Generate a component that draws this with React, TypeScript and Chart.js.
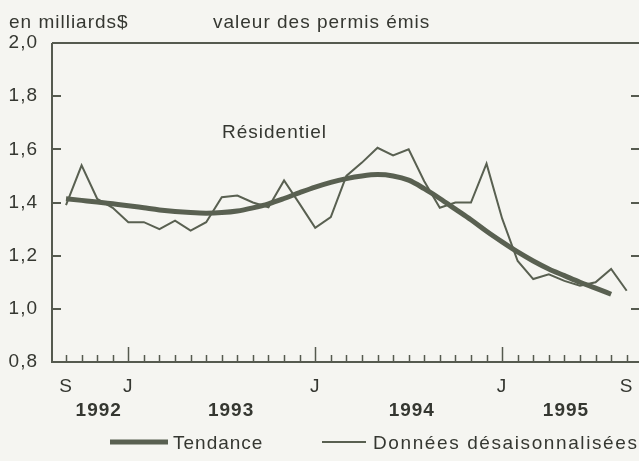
import React, { useEffect, useRef } from 'react';
import { Chart, registerables } from 'chart.js';

Chart.register(...registerables);

// Monthly categories: Sept 1992 .. Sept 1995
const months = [
  'S', 'O', 'N', 'D',
  'J', 'F', 'M', 'A', 'M', 'J', 'J', 'A', 'S', 'O', 'N', 'D',
  'J', 'F', 'M', 'A', 'M', 'J', 'J', 'A', 'S', 'O', 'N', 'D',
  'J', 'F', 'M', 'A', 'M', 'J', 'J', 'A', 'S',
];

// Données désaisonnalisées (milliards $)
const rawValues = [
  1.39, 1.54, 1.414, 1.38,
  1.326, 1.326, 1.30, 1.332, 1.294, 1.326, 1.42, 1.426, 1.40, 1.382, 1.483, 1.395,
  1.305, 1.345, 1.50, 1.55, 1.606, 1.577, 1.60, 1.48, 1.38, 1.40, 1.40, 1.546,
  1.34, 1.18, 1.112, 1.13, 1.105, 1.087, 1.10, 1.15, 1.068,
];

// Tendance (milliards $)
const trendValues = [
  1.414, 1.408, 1.402, 1.395,
  1.388, 1.380, 1.372, 1.366, 1.362, 1.360, 1.362, 1.368, 1.380, 1.395, 1.415, 1.437,
  1.458, 1.476, 1.490, 1.500, 1.505, 1.500, 1.484, 1.452, 1.415, 1.375, 1.335, 1.292,
  1.252, 1.214, 1.180, 1.150, 1.125, 1.100, 1.078, 1.055,
];

const yTicks = [0.8, 1.0, 1.2, 1.4, 1.6, 1.8, 2.0];
const labeledMonths = [0, 4, 16, 28, 36];
const majorMonths = [4, 16, 28];
const yearLabels = ['1992', '1993', '1994', '1995'];
const yearCenters = [2.1, 10.6, 22.2, 32.1];

const BG = '#f5f5f1';
const INK = '#353731';
const AXIS = '#555a4f';
const LINE = '#596051';
const FONT = '"Liberation Sans", Arial, Helvetica, sans-serif';

const decor = {
  id: 'decor',
  beforeDraw(chart: any) {
    const ctx = chart.ctx;
    ctx.save();
    ctx.fillStyle = BG;
    ctx.fillRect(0, 0, chart.width, chart.height);
    ctx.restore();
  },
  afterDatasetsDraw(chart: any) {
    const { ctx, chartArea: ca } = chart;
    const x = chart.scales.x;
    const y = chart.scales.y;
    ctx.save();
    ctx.strokeStyle = AXIS;
    ctx.lineWidth = 2;
    ctx.lineCap = 'butt';
    // frame: left, bottom, top
    ctx.beginPath();
    ctx.moveTo(ca.left, ca.top);
    ctx.lineTo(ca.left, ca.bottom);
    ctx.lineTo(ca.right, ca.bottom);
    ctx.stroke();
    ctx.beginPath();
    ctx.moveTo(ca.left, ca.top);
    ctx.lineTo(ca.right, ca.top);
    ctx.stroke();

    // y ticks (inward, both sides)
    yTicks.forEach((v) => {
      const py = Math.round(y.getPixelForValue(v));
      if (v > 0.8 && v < 2.0) {
        ctx.beginPath();
        ctx.moveTo(ca.left, py);
        ctx.lineTo(ca.left + 9, py);
        ctx.moveTo(ca.right - 8, py);
        ctx.lineTo(ca.right, py);
        ctx.stroke();
      }
    });

    // x ticks (monthly, inward)
    ctx.lineWidth = 1.5;
    months.forEach((_, i) => {
      const px = Math.round(x.getPixelForValue(i)) + 0.5;
      const len = majorMonths.includes(i) ? 15 : 7;
      ctx.beginPath();
      ctx.moveTo(px, ca.bottom);
      ctx.lineTo(px, ca.bottom - len);
      ctx.stroke();
    });

    // texts
    ctx.fillStyle = INK;
    (ctx as any).letterSpacing = '1px';
    ctx.font = `19px ${FONT}`;
    ctx.textBaseline = 'alphabetic';

    ctx.textAlign = 'left';
    ctx.fillText('en milliards$', 9, 28);
    ctx.fillText('valeur des permis émis', 213, 28);
    ctx.fillText('Résidentiel', 222, 138);

    // y labels
    ctx.textAlign = 'right';
    ctx.textBaseline = 'middle';
    yTicks.forEach((v) => {
      const py = y.getPixelForValue(v);
      ctx.fillText(v.toFixed(1).replace('.', ','), 38, py);
    });

    // month labels
    ctx.textAlign = 'center';
    ctx.textBaseline = 'alphabetic';
    labeledMonths.forEach((i) => {
      ctx.fillText(months[i], x.getPixelForValue(i), 392);
    });

    // year labels
    ctx.font = `bold 19px ${FONT}`;
    yearLabels.forEach((t, k) => {
      ctx.fillText(t, x.getPixelForValue(yearCenters[k]), 416);
    });

    // legend
    ctx.strokeStyle = LINE;
    ctx.lineWidth = 5;
    ctx.beginPath();
    ctx.moveTo(110, 442);
    ctx.lineTo(168, 442);
    ctx.stroke();
    ctx.lineWidth = 2;
    ctx.beginPath();
    ctx.moveTo(322, 442);
    ctx.lineTo(366, 442);
    ctx.stroke();
    ctx.font = `19px ${FONT}`;
    ctx.textAlign = 'left';
    ctx.fillText('Tendance', 173, 449);
    (ctx as any).letterSpacing = '1.6px';
    ctx.fillText('Données désaisonnalisées', 373, 449);
    ctx.restore();
  },
};

export default function App() {
  const ref = useRef<HTMLCanvasElement>(null);
  useEffect(() => {
    if (!ref.current) return;
    const chart = new Chart(ref.current, {
      type: 'line',
      data: {
        labels: months,
        datasets: [
          {
            label: 'Tendance',
            data: trendValues.map((v, i) => ({ x: i, y: v })),
            borderColor: LINE,
            borderWidth: 5,
            pointRadius: 0,
            tension: 0.4,
            cubicInterpolationMode: 'monotone',
            fill: false,
          },
          {
            label: 'Données désaisonnalisées',
            data: rawValues.map((v, i) => ({ x: i, y: v })),
            borderColor: LINE,
            borderWidth: 2,
            pointRadius: 0,
            tension: 0,
            fill: false,
          },
        ],
      },
      options: {
        responsive: false,
        animation: false,
        events: [],
        layout: { padding: { left: 52, top: 43, right: 0, bottom: 99 } },
        scales: {
          x: { type: 'linear', min: -0.9, max: 36.79, display: false },
          y: { type: 'linear', min: 0.8, max: 2.0, display: false },
        },
        plugins: {
          legend: { display: false },
          tooltip: { enabled: false },
        },
      },
      plugins: [decor],
    } as any);
    return () => chart.destroy();
  }, []);
  return (
    <div style={{ position: 'fixed', left: 0, top: 0, width: 639, height: 461, background: BG }}>
      <canvas ref={ref} width={639} height={461} style={{ display: 'block' }} />
    </div>
  );
}
